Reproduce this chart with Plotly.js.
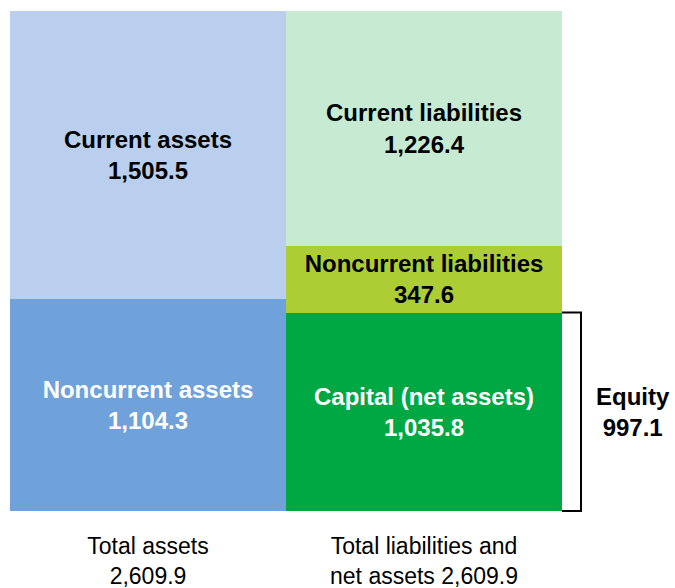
<!DOCTYPE html>
<html>
<head>
<meta charset="utf-8">
<script src="https://cdn.plot.ly/plotly-3.0.1.min.js"></script>
<style>html,body{margin:0;padding:0;background:#fff;}#chart{width:675px;height:588px;}</style>
</head>
<body>
<div id="chart"></div>
<script>
var categories = ['Total assets', 'Total liabilities and net assets'];
var categoryLabels = ['Total assets<br>2,609.9', 'Total liabilities and<br>net assets 2,609.9'];

var assetNames = ['Noncurrent assets', 'Current assets'];
var assetValues = [1104.3, 1505.5];
var assetColors = ['#6FA1DA', '#B9CFED'];
var assetTextColors = ['#ffffff', '#000000'];

var liabNames = ['Capital (net assets)', 'Noncurrent liabilities', 'Current liabilities'];
var liabValues = [1035.8, 347.6, 1226.4];
var liabColors = ['#00A844', '#ADCD35', '#C6EAD2'];
var liabTextColors = ['#ffffff', '#000000', '#000000'];

var equityLabel = 'Equity';
var equityValue = 997.1;

function fmt(v){ return v.toLocaleString('en-US', {minimumFractionDigits:1, maximumFractionDigits:1}); }

var FONT = 'Arial, "Liberation Sans", Helvetica, sans-serif';
var traces = [];
function addSeg(cat, name, val, color, tcolor){
  traces.push({
    type: 'bar', x: [cat], y: [val], name: name,
    marker: {color: color, line: {width: 0}},
    text: ['<b>' + name + '<br>' + fmt(val) + '</b>'],
    textposition: 'inside', insidetextanchor: 'middle',
    constraintext: 'none',
    textfont: {family: FONT, size: 24, color: tcolor},
    hoverinfo: 'none', showlegend: false, width: 1
  });
}
for (var i = 0; i < assetNames.length; i++) addSeg(categories[0], assetNames[i], assetValues[i], assetColors[i], assetTextColors[i]);
for (var j = 0; j < liabNames.length; j++) addSeg(categories[1], liabNames[j], liabValues[j], liabColors[j], liabTextColors[j]);

var total = assetValues.reduce(function(a,b){return a+b;}, 0);
var capTop = liabValues[0] / total;

var layout = {
  width: 675, height: 588,
  margin: {l: 10, r: 113, t: 11, b: 77},
  paper_bgcolor: '#ffffff', plot_bgcolor: '#ffffff',
  barmode: 'stack', bargap: 0,
  xaxis: {
    type: 'category', tickvals: categories, ticktext: categoryLabels,
    showgrid: false, zeroline: false, showline: false, ticks: '',
    ticklabelstandoff: 19,
    tickfont: {family: FONT, size: 23, color: '#000000'},
    fixedrange: true
  },
  yaxis: {range: [0, total], visible: false, showgrid: false, zeroline: false, fixedrange: true},
  shapes: [{
    type: 'path', xref: 'paper', yref: 'paper',
    path: 'M 1,' + capTop + ' L 1.0344,' + capTop + ' L 1.0344,0 L 1,0',
    line: {color: '#000000', width: 2}
  }],
  annotations: [{
    xref: 'paper', yref: 'paper', x: 1.1286, y: capTop / 2,
    xanchor: 'center', yanchor: 'middle', showarrow: false,
    text: '<b>' + equityLabel + '<br>' + fmt(equityValue) + '</b>',
    font: {family: FONT, size: 24, color: '#000000'}
  }]
};

Plotly.newPlot('chart', traces, layout, {displayModeBar: false, staticPlot: true});
</script>
</body>
</html>
